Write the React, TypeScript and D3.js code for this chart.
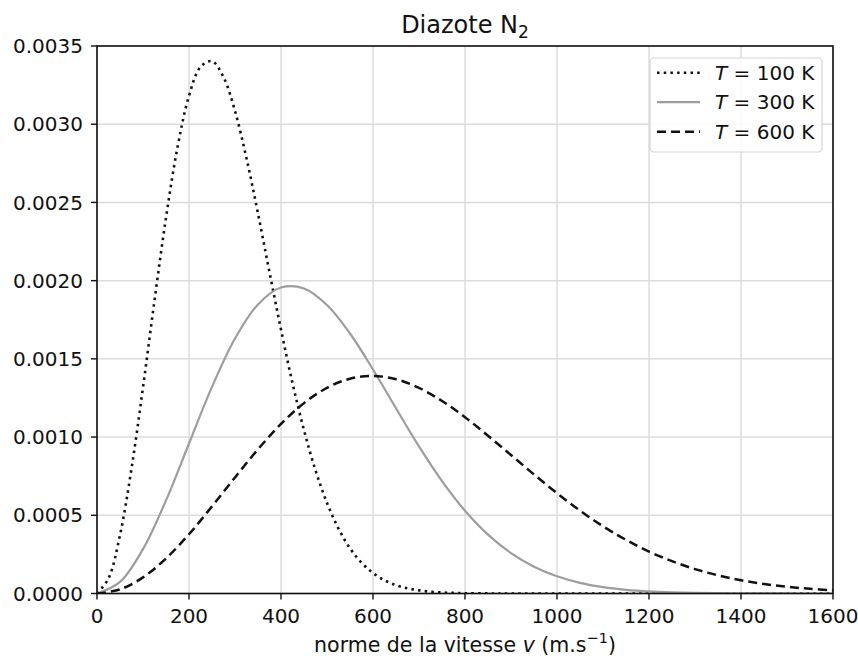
import React from "react";
import * as d3 from "d3";

const vStep25 = [0, 25, 50, 75, 100, 125, 150, 175, 200, 225, 250, 275, 300, 325, 350, 375, 400, 425, 450, 475, 500, 525, 550, 575, 600, 625, 650, 675, 700, 725, 750, 775, 800, 850, 900, 1000, 1200, 1400, 1600];
const f100 = [0, 0.0000964, 0.000374, 0.000798, 0.001318, 0.001873, 0.002402, 0.002852, 0.003181, 0.003366, 0.003403, 0.003301, 0.003084, 0.002782, 0.002429, 0.002054, 0.001687, 0.001345, 0.001044, 0.000788, 0.000579, 0.000415, 0.000289, 0.000197, 0.000131, 0.0000848, 0.0000536, 0.0000331, 0.00002, 0.0000117, 0.0000068, 0.0000038, 0.000002, 0.0000005, 0.0000001, 0, 0, 0, 0];

const vStep50 = [0, 50, 100, 150, 200, 250, 300, 350, 400, 450, 500, 550, 600, 650, 700, 750, 800, 850, 900, 950, 1000, 1050, 1100, 1150, 1200, 1250, 1300, 1350, 1400, 1450, 1500, 1550, 1600];
const f300 = [0, 0.000074, 0.000284, 0.000595, 0.000959, 0.001321, 0.00163, 0.001848, 0.001956, 0.00195, 0.001844, 0.001662, 0.001432, 0.001184, 0.00094, 0.000718, 0.000529, 0.000376, 0.000258, 0.000171, 0.00011, 0.000068, 0.0000408, 0.0000237, 0.0000133, 0.0000073, 0.0000039, 0.000002, 0.000001, 0.0000005, 0.0000002, 0.0000001, 0];
const f600 = [0, 0.0000263, 0.000103, 0.000224, 0.000379, 0.000557, 0.000742, 0.000922, 0.001084, 0.001217, 0.001315, 0.001373, 0.001391, 0.00137, 0.001314, 0.001231, 0.001127, 0.001009, 0.000885, 0.000761, 0.000641, 0.00053, 0.00043, 0.000343, 0.000268, 0.000207, 0.000156, 0.000116, 0.0000849, 0.000061, 0.0000432, 0.00003, 0.0000206];

const xTicks = [0, 200, 400, 600, 800, 1000, 1200, 1400, 1600];
const yTicks = [0, 0.0005, 0.001, 0.0015, 0.002, 0.0025, 0.003, 0.0035];
const legendLabels = ["100 K", "300 K", "600 K"];

const W = 858, H = 658;
const L = 97, R = 833, T = 46, B = 593.5;
const FONT = "DejaVu Sans, sans-serif";
const FS = 20;

export default function App() {
  const x = d3.scaleLinear().domain([0, 1600]).range([L, R]);
  const y = d3.scaleLinear().domain([0, 0.0035]).range([B, T]);
  const line = d3.line<[number, number]>().x(d => x(d[0])).y(d => y(d[1])).curve(d3.curveCatmullRom.alpha(0.5));
  const p100 = line(vStep25.map((v, i) => [v, f100[i]] as [number, number])) || "";
  const p300 = line(vStep50.map((v, i) => [v, f300[i]] as [number, number])) || "";
  const p600 = line(vStep50.map((v, i) => [v, f600[i]] as [number, number])) || "";

  const styles = [
    { stroke: "#111", dash: "2.5,4.2", width: 2.6 },
    { stroke: "#9d9d9d", dash: "", width: 2.2 },
    { stroke: "#111", dash: "9,5", width: 2.5 },
  ];
  const paths = [p100, p300, p600];

  return (
    <svg width={W} height={H} style={{ position: "absolute", left: 0, top: 0, background: "#fff" }} fontFamily={FONT}>
      <rect x={0} y={0} width={W} height={H} fill="#fff" />
      <defs>
        <clipPath id="plotclip">
          <rect x={L} y={T - 2} width={R - L} height={B - T + 2} />
        </clipPath>
      </defs>
      {xTicks.map(t => (
        <line key={"gx" + t} x1={x(t)} x2={x(t)} y1={T} y2={B} stroke="#dcdcdc" strokeWidth={1.5} />
      ))}
      {yTicks.map(t => (
        <line key={"gy" + t} x1={L} x2={R} y1={y(t)} y2={y(t)} stroke="#dcdcdc" strokeWidth={1.5} />
      ))}
      <g clipPath="url(#plotclip)" fill="none">
        {paths.map((p, i) => (
          <path key={i} d={p} stroke={styles[i].stroke} strokeWidth={styles[i].width} strokeDasharray={styles[i].dash || undefined} strokeLinecap="butt" />
        ))}
      </g>
      <rect x={L} y={T} width={R - L} height={B - T} fill="none" stroke="#111" strokeWidth={1.6} />
      {xTicks.map(t => (
        <g key={"tx" + t}>
          <line x1={x(t)} x2={x(t)} y1={B} y2={B + 6} stroke="#111" strokeWidth={1.4} />
          <text x={x(t)} y={622.5} textAnchor="middle" fontSize={FS} fill="#111">{t}</text>
        </g>
      ))}
      {yTicks.map(t => (
        <g key={"ty" + t}>
          <line x1={L - 6} x2={L} y1={y(t)} y2={y(t)} stroke="#111" strokeWidth={1.4} />
          <text x={83} y={y(t)} dy="0.36em" textAnchor="end" fontSize={FS} fill="#111">{t.toFixed(4)}</text>
        </g>
      ))}
      <text x={465} y={33} textAnchor="middle" fontSize={24} fill="#111">
        Diazote N<tspan dy={5} fontSize={17}>2</tspan>
      </text>
      <text x={465} y={652} textAnchor="middle" fontSize={20.5} fill="#111">
        norme de la vitesse <tspan fontStyle="italic">v</tspan> (m.s<tspan dy={-9} fontSize={14.5}>−1</tspan><tspan dy={9}>)</tspan>
      </text>
      <rect x={650} y={58} width={172} height={94} rx={4} fill="#fff" fillOpacity={0.85} stroke="#d4d4d4" strokeWidth={1.2} />
      {legendLabels.map((lab, i) => {
        const cy = 72.7 + i * 29.5;
        return (
          <g key={"lg" + i}>
            <line x1={657} x2={700} y1={cy} y2={cy} stroke={styles[i].stroke} strokeWidth={styles[i].width} strokeDasharray={styles[i].dash || undefined} />
            <text x={715} y={cy} dy="0.36em" fontSize={FS} fill="#111">
              <tspan fontStyle="italic">T</tspan> = {lab}
            </text>
          </g>
        );
      })}
    </svg>
  );
}
